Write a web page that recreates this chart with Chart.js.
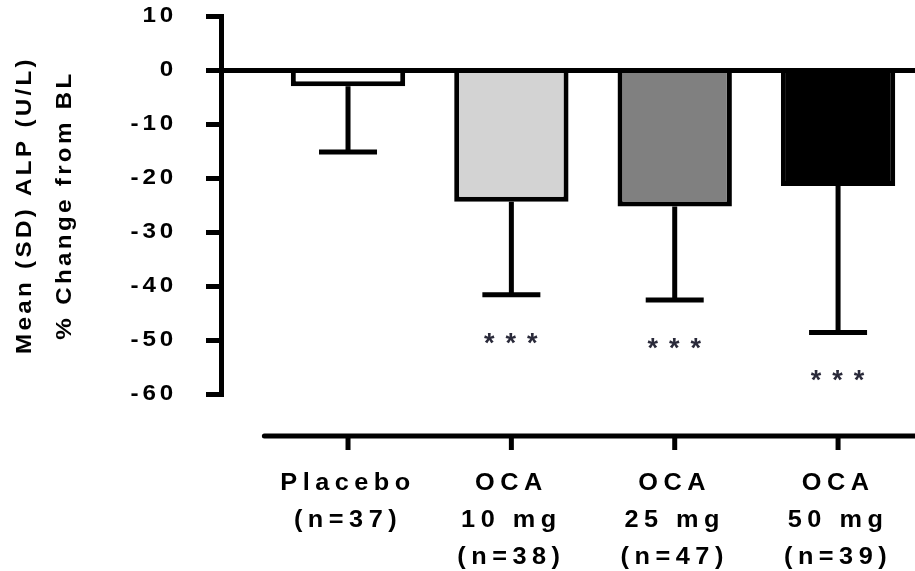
<!DOCTYPE html>
<html>
<head>
<meta charset="utf-8">
<script src="https://cdn.jsdelivr.net/npm/chart.js@4"></script>
<style>
  html, body { margin: 0; padding: 0; background: #fff; }
  canvas { display: block; }
</style>
</head>
<body>
<canvas id="alpChart" width="915" height="571"></canvas>
<script>
const groups = ["Placebo", "OCA 10 mg", "OCA 25 mg", "OCA 50 mg"];
const xLabels = [
  ["Placebo", "(n=37)"],
  ["OCA", "10 mg", "(n=38)"],
  ["OCA", "25 mg", "(n=47)"],
  ["OCA", "50 mg", "(n=39)"]
];
const meanChange = [-3.0, -24.4, -25.3, -21.5];
const sdChange = [12.2, 17.2, 17.3, 27.1];
const barColors = ["#ffffff", "#d3d3d3", "#808080", "#000000"];
const significance = ["", "***", "***", "***"];
const yTicks = [10, 0, -10, -20, -30, -40, -50, -60];

const FONT = "'Liberation Sans', Arial, sans-serif";
const spacing = { x: "5px", y: "3.5px", title: "3px" };
const STRETCH = 1.1;

// draw text a bit wider than the font, like the exported original
function stretched(ctx, fn) {
  const fillText = ctx.fillText;
  ctx.fillText = function (text, x, y) {
    this.save();
    this.translate(x, y);
    this.scale(STRETCH, 1);
    fillText.call(this, text, 0, 0);
    this.restore();
  };
  fn();
  delete ctx.fillText;
}

// canvas letter spacing per scale (GraphPad-style spaced text)
const spacingPlugin = {
  id: "spacing",
  beforeDraw(chart) {
    Object.values(chart.scales).forEach(scale => {
      if (scale._spaced) return;
      const drawLabels = scale.drawLabels.bind(scale);
      const drawTitle = scale.drawTitle.bind(scale);
      scale.drawLabels = area => {
        chart.ctx.letterSpacing = spacing[scale.axis];
        stretched(chart.ctx, () => drawLabels(area));
        chart.ctx.letterSpacing = "0px";
      };
      scale.drawTitle = () => {
        chart.ctx.letterSpacing = spacing.title;
        stretched(chart.ctx, () => drawTitle());
        chart.ctx.letterSpacing = "0px";
      };
      scale._spaced = true;
    });
  }
};

// error bars, significance stars and the detached x axis line
const extrasPlugin = {
  id: "extras",
  afterDatasetsDraw(chart) {
    const { ctx, chartArea, scales: { x, y } } = chart;
    const axisY = chartArea.bottom + 42;
    ctx.save();
    ctx.strokeStyle = "#000";
    ctx.lineWidth = 5;

    ctx.lineCap = "round";
    ctx.beginPath();
    ctx.moveTo(x.getPixelForValue(-0.5) - 2, axisY);
    ctx.lineTo(chartArea.right, axisY);
    ctx.stroke();
    ctx.lineCap = "butt";
    groups.forEach((g, i) => {
      const px = x.getPixelForValue(i);
      ctx.beginPath();
      ctx.moveTo(px, axisY);
      ctx.lineTo(px, axisY + 14);
      ctx.stroke();
    });

    chart.getDatasetMeta(0).data.forEach((bar, i) => {
      const end = y.getPixelForValue(meanChange[i] - sdChange[i]);
      ctx.beginPath();
      ctx.moveTo(bar.x, bar.y);
      ctx.lineTo(bar.x, end);
      ctx.moveTo(bar.x - 29, end);
      ctx.lineTo(bar.x + 29, end);
      ctx.stroke();

      if (significance[i]) {
        ctx.font = "bold 27px 'Liberation Sans'";
        ctx.fillStyle = "#2a2a3a";
        ctx.textAlign = "center";
        ctx.textBaseline = "alphabetic";
        ctx.letterSpacing = "11px";
        ctx.fillText(significance[i], bar.x + 5, end + 42 + 15);
      }
    });
    ctx.restore();
  }
};

new Chart(document.getElementById("alpChart"), {
  type: "bar",
  data: {
    datasets: [{
      label: "Mean % change",
      data: meanChange.map((v, i) => ({ x: i, y: v })),
      backgroundColor: barColors,
      borderColor: "#000",
      borderWidth: 5,
      barPercentage: 0.7,
      categoryPercentage: 1
    }]
  },
  options: {
    responsive: false,
    animation: false,
    devicePixelRatio: 1,
    layout: { padding: { top: 16, left: 0, right: 0, bottom: 0 } },
    plugins: { legend: { display: false }, tooltip: { enabled: false } },
    scales: {
      x: {
        type: "linear",
        min: -0.7776,
        max: 3.471,
        offset: false,
        grid: { display: false, drawTicks: false, offset: false },
        border: { display: false },
        afterBuildTicks: scale => { scale.ticks = groups.map((g, i) => ({ value: i })); },
        afterFit: scale => {
          scale.height = 177;
          scale.paddingLeft = 0;
          scale.paddingRight = 0;
        },
        ticks: {
          autoSkip: false,
          maxRotation: 0,
          minRotation: 0,
          padding: 71,
          color: "#000",
          font: { family: FONT, size: 23, weight: "bold", lineHeight: "37px" },
          callback: value => xLabels[value]
        }
      },
      y: {
        min: -60,
        max: 10,
        afterBuildTicks: scale => { scale.ticks = yTicks.map(v => ({ value: v })); },
        afterFit: scale => {
          scale.width = 221;
          scale.paddingTop = 0;
          scale.paddingBottom = 0;
        },
        grid: {
          z: 1,
          color: ctx => (ctx.tick && ctx.tick.value === 0 ? "#000" : "rgba(0,0,0,0)"),
          lineWidth: 5,
          tickColor: "#000",
          tickWidth: 5,
          tickLength: 15
        },
        border: { display: true, color: "#000", width: 5, z: 1 },
        ticks: {
          padding: 29,
          color: "#000",
          font: { family: FONT, size: 22, weight: "bold" }
        },
        title: {
          display: true,
          text: ["Mean (SD) ALP (U/L)", "% Change from BL"],
          color: "#000",
          padding: { top: 5, bottom: 0 },
          font: { family: FONT, size: 22, weight: "bold", lineHeight: "40px" }
        }
      }
    }
  },
  plugins: [spacingPlugin, extrasPlugin]
});
</script>
</body>
</html>
